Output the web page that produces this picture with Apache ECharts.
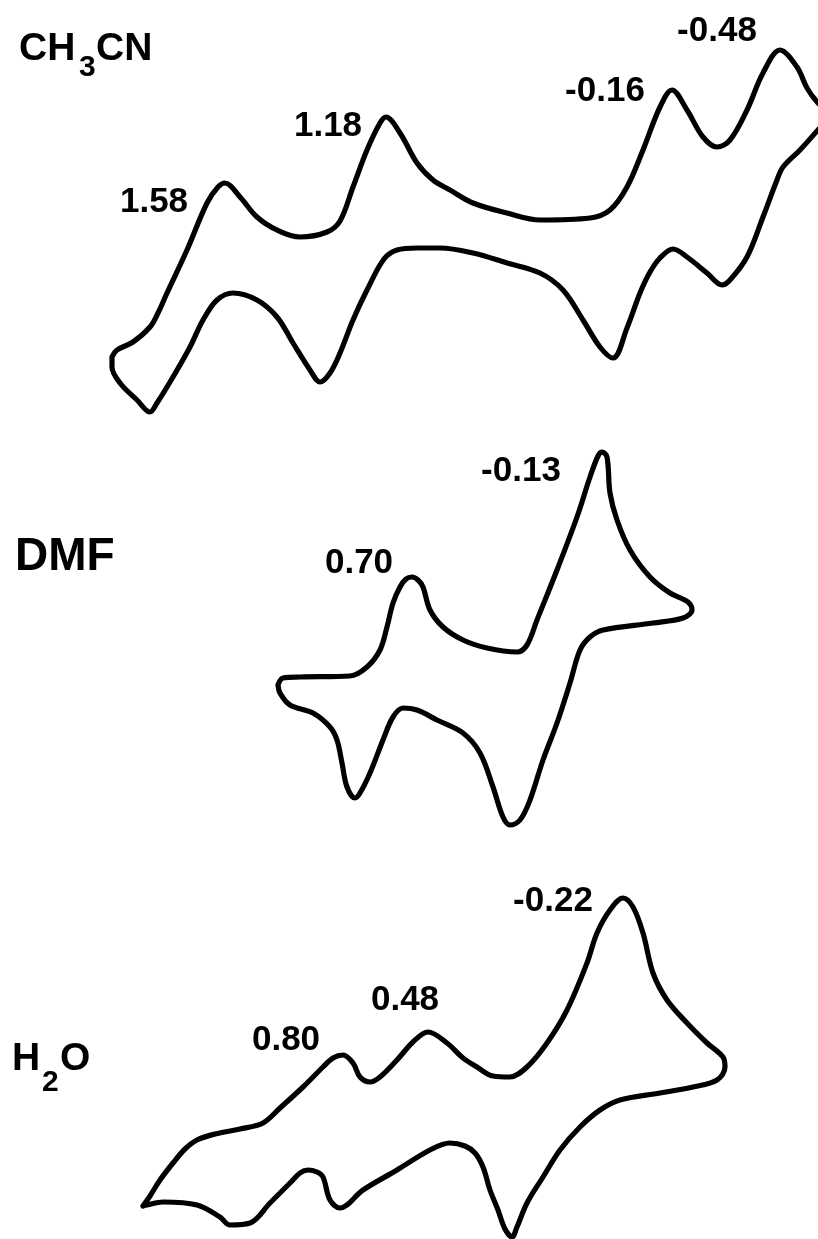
<!DOCTYPE html>
<html>
<head>
<meta charset="utf-8">
<title>Cyclic voltammograms</title>
<script src="https://cdn.jsdelivr.net/npm/echarts@6/dist/echarts.min.js"></script>
<style>
  html, body { margin: 0; padding: 0; background: #ffffff; }
  #chart { width: 818px; height: 1239px; }
</style>
</head>
<body>
<div id="chart"></div>
<script>
// Sweep position (arbitrary units, left = anodic end) and current (arbitrary units, up = anodic)
// for each solvent, listed as one closed loop: forward branch then return branch.
const ch3cnLoop = [
  [112,-142],[117,-135],[133,-127],[150,-112],[158,-98],[167,-78],[187,-35],[207,12],[218,28],[225,32],
  [240,18],[257,-2],[277,-15],[300,-22],[327,-17],[340,-6],[353,28],[367,65],[380,92],[386,98],
  [400,82],[417,52],[433,35],[450,25],[473,12],[507,2],[540,-5],[590,-3],[610,5],[627,28],
  [643,65],[660,108],[672,125],[687,105],[703,78],[717,68],[730,75],[747,105],[763,142],[780,165],
  [797,148],[807,127],[818,112],[832,100],[818,85],[800,65],[783,48],[777,35],[763,-2],[747,-42],
  [730,-65],[722,-70],[707,-58],[687,-42],[673,-34],[660,-43],[650,-57],[640,-78],[627,-113],[613,-143],
  [600,-132],[583,-105],[563,-75],[540,-58],[507,-48],[473,-38],[440,-33],[417,-33],[397,-35],[384,-44],
  [367,-75],[353,-105],[340,-138],[330,-158],[320,-167],[310,-155],[293,-128],[277,-102],[257,-85],[233,-78],
  [217,-85],[203,-105],[190,-132],[173,-162],[157,-188],[150,-197],[137,-185],[120,-168],[112,-152],[112,-142]
];
const dmfLoop = [
  [278,-40],[283,-33],[300,-32],[350,-31],[367,-22],[380,-5],[387,18],[393,42],[400,58],[406,66],
  [412,68],[418,65],[423,58],[430,35],[443,18],[463,5],[487,-3],[517,-7],[527,0],[537,25],
  [557,75],[577,128],[590,168],[598,189],[602,193],[607,188],[610,152],[617,125],[630,95],[650,68],
  [670,52],[688,43],[692,35],[683,27],[653,22],[603,15],[590,8],[580,-5],[570,-38],[557,-78],
  [543,-115],[530,-155],[520,-175],[510,-180],[503,-172],[493,-142],[480,-108],[463,-88],[437,-75],[417,-65],
  [403,-63],[393,-72],[383,-95],[370,-128],[360,-148],[355,-153],[347,-142],[342,-118],[337,-95],[330,-82],
  [313,-68],[290,-60],[280,-48],[278,-40]
];
const h2oLoop = [
  [143,-157],[150,-147],[160,-131],[173,-114],[185,-100],[197,-91],[215,-85],[240,-80],[263,-74],[280,-59],
  [303,-38],[323,-18],[333,-9],[343,-6],[353,-14],[360,-28],[370,-33],[380,-28],[397,-11],[413,7],
  [428,17],[447,6],[463,-9],[477,-18],[493,-27],[510,-28],[527,-18],[547,6],[567,39],[587,86],
  [597,116],[610,139],[623,151],[633,142],[643,116],[653,76],[667,49],[687,26],[707,6],[723,-8],
  [725,-18],[717,-31],[693,-38],[660,-44],[620,-51],[600,-61],[580,-78],[560,-101],[543,-128],[527,-154],
  [517,-178],[512,-188],[505,-180],[498,-161],[490,-141],[483,-118],[475,-104],[465,-97],[450,-94],[430,-101],
  [397,-121],[363,-141],[340,-159],[330,-151],[323,-128],[317,-123],[308,-121],[300,-124],[290,-134],[270,-154],
  [250,-174],[230,-176],[220,-168],[197,-156],[163,-153],[147,-156],[143,-157]
];

// Peak potentials (V) printed beside each wave
const ch3cnPeaks = ['1.58', '1.18', '-0.16', '-0.48'];
const dmfPeaks = ['0.70', '-0.13'];
const h2oPeaks = ['0.80', '0.48', '-0.22'];

// Where each peak label sits, in the same sweep/current units as the loops
const ch3cnPeakAnchors = [[154, 13], [328, 89], [605, 124], [717, 184]];
const dmfPeakAnchors = [[359, 82], [521, 174]];
const h2oPeakAnchors = [[286, 9], [405, 49], [553, 148]];

const W = 818;
const panels = [
  { loop: ch3cnLoop, peaks: ch3cnPeaks, anchors: ch3cnPeakAnchors, top: 0, height: 430 },
  { loop: dmfLoop, peaks: dmfPeaks, anchors: dmfPeakAnchors, top: 430, height: 430 },
  { loop: h2oLoop, peaks: h2oPeaks, anchors: h2oPeakAnchors, top: 859, height: 380 }
];

const FONT = '"Liberation Sans", Arial, Helvetica, sans-serif';
const grid = [], xAxis = [], yAxis = [], series = [];

panels.forEach(function (p, i) {
  grid.push({ left: 0, width: W, top: p.top, height: p.height, containLabel: false });
  xAxis.push({ type: 'value', gridIndex: i, min: 0, max: W, show: false });
  yAxis.push({ type: 'value', gridIndex: i, min: -p.height / 2, max: p.height / 2, show: false });
  series.push({
    type: 'line', xAxisIndex: i, yAxisIndex: i,
    data: p.loop, symbol: 'none', smooth: 0.35, clip: true,
    lineStyle: { color: '#000', width: 5.2, join: 'round', cap: 'round', opacity: 1 },
    silent: true
  });
  series.push({
    type: 'scatter', xAxisIndex: i, yAxisIndex: i,
    symbolSize: 0, silent: true,
    itemStyle: { opacity: 1, color: '#000' },
    data: p.peaks.map(function (t, k) { return { value: p.anchors[k], name: t }; }),
    label: {
      show: true, position: 'inside', formatter: '{b}', opacity: 1,
      color: '#000', fontFamily: FONT, fontWeight: 'bold', fontSize: 35
    }
  });
});

// Solvent names, with subscripts
const titleStyle = { fill: '#000', font: 'bold 39px ' + FONT };
const bigTitleStyle = { fill: '#000', font: 'bold 46px ' + FONT };
const subStyle = { fill: '#000', font: 'bold 30px ' + FONT };
function txt(text, x, y, st) {
  return { type: 'text', x: x, y: y, silent: true,
    style: Object.assign({ text: text, verticalAlign: 'top', align: 'left' }, st) };
}

const chart = echarts.init(document.getElementById('chart'), null, { renderer: 'canvas' });
chart.setOption({
  animation: false,
  backgroundColor: '#ffffff',
  grid: grid, xAxis: xAxis, yAxis: yAxis, series: series,
  graphic: [
    txt('CH', 19, 30, titleStyle), txt('3', 79, 53, subStyle), txt('CN', 96, 30, titleStyle),
    txt('DMF', 15, 534, bigTitleStyle),
    txt('H', 12, 1040, titleStyle), txt('2', 42, 1068, subStyle), txt('O', 60, 1040, titleStyle)
  ]
});
</script>
</body>
</html>
